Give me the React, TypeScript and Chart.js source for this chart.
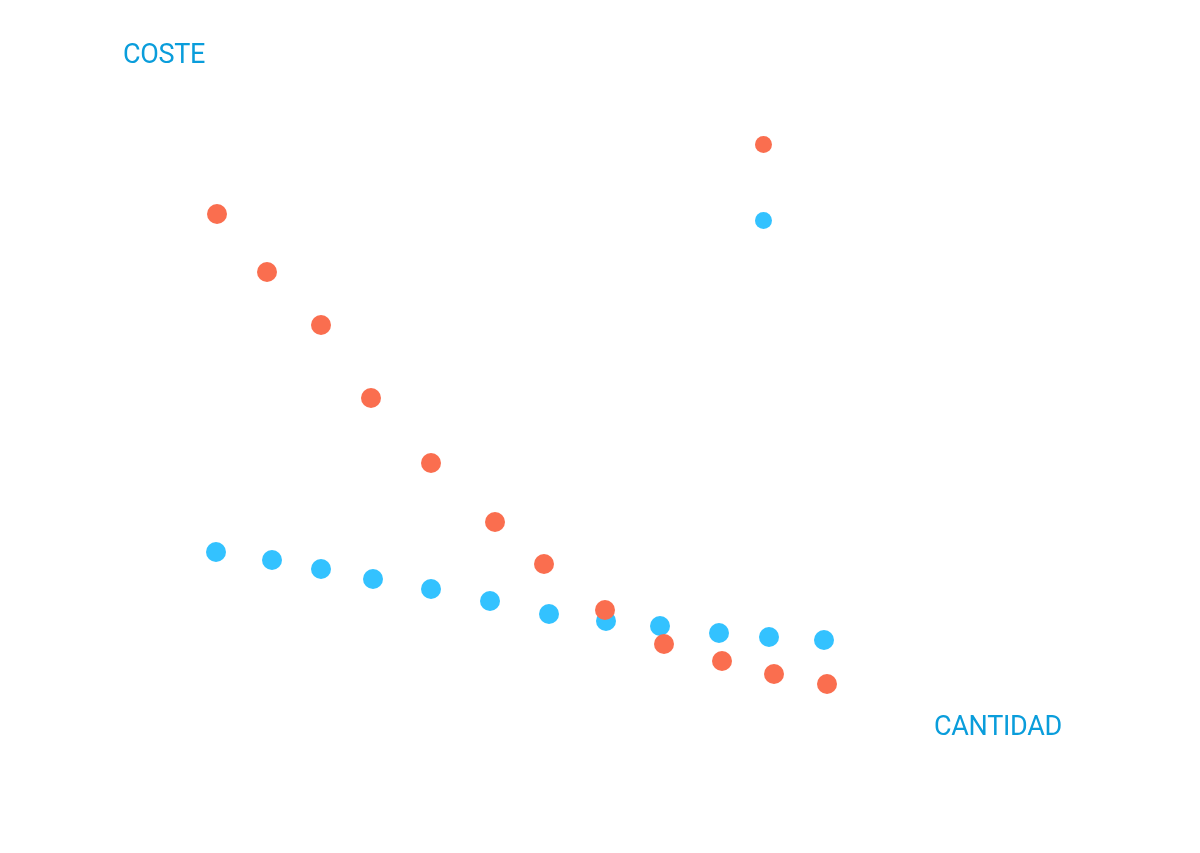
import { useEffect, useRef } from 'react';
import { Chart, registerables } from 'chart.js';

Chart.register(...registerables);

// cantidad (x) y coste (y)
const cantidadA = [11.7, 16.7, 22.1, 27.1, 33.1, 39.5, 44.4, 50.5, 56.4, 62.2, 67.4, 72.7];
const costeA = [58.6, 52.8, 47.5, 40.2, 33.7, 27.8, 23.6, 19.0, 15.6, 13.9, 12.6, 11.6];

const cantidadB = [11.6, 17.2, 22.1, 27.3, 33.1, 39.0, 44.9, 50.6, 56.0, 61.9, 66.9, 72.4];
const costeB = [24.8, 24.0, 23.1, 22.1, 21.1, 19.9, 18.6, 17.9, 17.4, 16.7, 16.3, 16.0];

const ORANGE = '#fa6e4f';
const BLUE = '#33c2ff';
const TEXT = '#0a9ddb';

const toPoints = (xs: number[], ys: number[]) => xs.map((x, i) => ({ x, y: ys[i] }));

export default function App() {
  const canvasRef = useRef<HTMLCanvasElement>(null);

  useEffect(() => {
    document.body.style.margin = '0';
    if (!canvasRef.current) return;

    const chart = new Chart(canvasRef.current, {
      type: 'scatter',
      data: {
        datasets: [
          {
            label: 'Coste A',
            data: toPoints(cantidadA, costeA),
            backgroundColor: ORANGE,
            borderWidth: 0,
            pointRadius: 10,
            pointHoverRadius: 10,
          },
          {
            label: 'Coste B',
            data: toPoints(cantidadB, costeB),
            backgroundColor: BLUE,
            borderWidth: 0,
            pointRadius: 10,
            pointHoverRadius: 10,
          },
        ],
      },
      options: {
        responsive: false,
        animation: false,
        layout: { padding: { left: 100, right: 100, top: 100, bottom: 53 } },
        plugins: {
          legend: { display: false },
          tooltip: { enabled: false },
        },
        scales: {
          x: { type: 'linear', min: 0, max: 100, display: false },
          y: { type: 'linear', min: 0, max: 70, display: false },
        },
      },
    });

    return () => {
      chart.destroy();
    };
  }, []);

  const label = {
    position: 'absolute' as const,
    fontFamily: 'Roboto, sans-serif',
    fontSize: 27,
    lineHeight: 1,
    color: TEXT,
    whiteSpace: 'nowrap' as const,
  };

  const dot = (color: string, top: number) => ({
    position: 'absolute' as const,
    left: 755,
    top,
    width: 17,
    height: 17,
    borderRadius: '50%',
    background: color,
  });

  return (
    <div style={{ position: 'relative', width: 1200, height: 853, background: '#fff' }}>
      <canvas ref={canvasRef} width={1200} height={853} style={{ display: 'block' }} />
      <span style={{ ...label, left: 123, top: 41, letterSpacing: -0.3 }}>COSTE</span>
      <span style={{ ...label, left: 934, top: 713, letterSpacing: -0.3 }}>CANTIDAD</span>
      <div title="Coste A" style={dot(ORANGE, 135.5)} />
      <div title="Coste B" style={dot(BLUE, 211.5)} />
    </div>
  );
}
